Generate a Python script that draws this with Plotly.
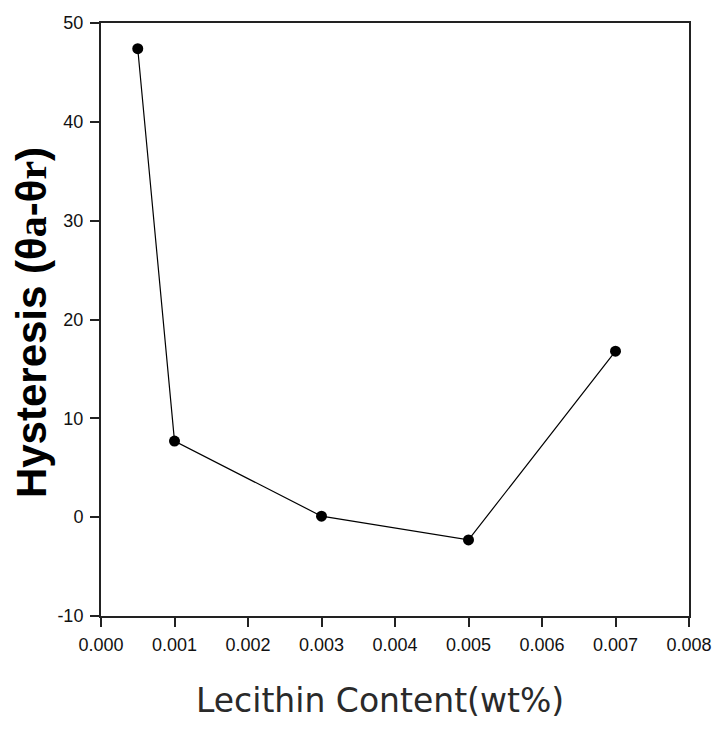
import plotly.graph_objects as go

# Lecithin content (wt%) and contact-angle hysteresis values
lecithin_wt = [0.0005, 0.001, 0.003, 0.005, 0.007]
hysteresis = [47.4, 7.7, 0.1, -2.3, 16.8]

x_ticks = [0.000, 0.001, 0.002, 0.003, 0.004, 0.005, 0.006, 0.007, 0.008]
x_tick_text = ["0.000", "0.001", "0.002", "0.003", "0.004", "0.005", "0.006", "0.007", "0.008"]
y_ticks = [-10, 0, 10, 20, 30, 40, 50]
y_tick_text = ["-10", "0", "10", "20", "30", "40", "50"]

tick_font = dict(family="Liberation Sans Narrow, Arial Narrow, Liberation Sans, sans-serif",
                 size=18, color="#111")

fig = go.Figure()
fig.add_trace(go.Scatter(
    x=lecithin_wt, y=hysteresis, mode="lines+markers",
    line=dict(color="black", width=1.2),
    marker=dict(color="black", size=11, symbol="circle"),
    showlegend=False,
))

axis_common = dict(showline=True, linecolor="#222", linewidth=2, mirror=True,
                   showgrid=False, zeroline=False, ticks="outside", ticklen=9,
                   tickwidth=1.5, tickcolor="#222", tickfont=tick_font,
                   automargin=False)

fig.update_xaxes(range=[0, 0.008], tickvals=x_ticks, ticktext=x_tick_text,
                 ticklabelstandoff=2, **axis_common)
fig.update_yaxes(range=[-10, 50], tickvals=y_ticks, ticktext=y_tick_text,
                 ticklabelstandoff=3, **axis_common)

fig.add_annotation(
    text="Hysteresis (θ<span style='font-family:Liberation Serif'>a</span>-θ<span style='font-family:Liberation Serif'>r</span>)",
    xref="paper", yref="paper", x=-0.119, y=0.494, xanchor="center", yanchor="middle",
    textangle=-90, showarrow=False,
    font=dict(family="Liberation Sans, Arial, sans-serif", size=42, color="black", weight="bold"),
)
fig.add_annotation(
    text="Lecithin Content(wt%)",
    xref="paper", yref="paper", x=0.4745, y=-0.1417, xanchor="center", yanchor="middle",
    showarrow=False,
    font=dict(family="DejaVu Sans, sans-serif", size=33, color="#2a2a2a"),
)

fig.update_layout(
    width=714, height=731,
    margin=dict(l=101, r=25, t=23, b=115),
    plot_bgcolor="white", paper_bgcolor="white",
)

fig.write_html("out.html")
